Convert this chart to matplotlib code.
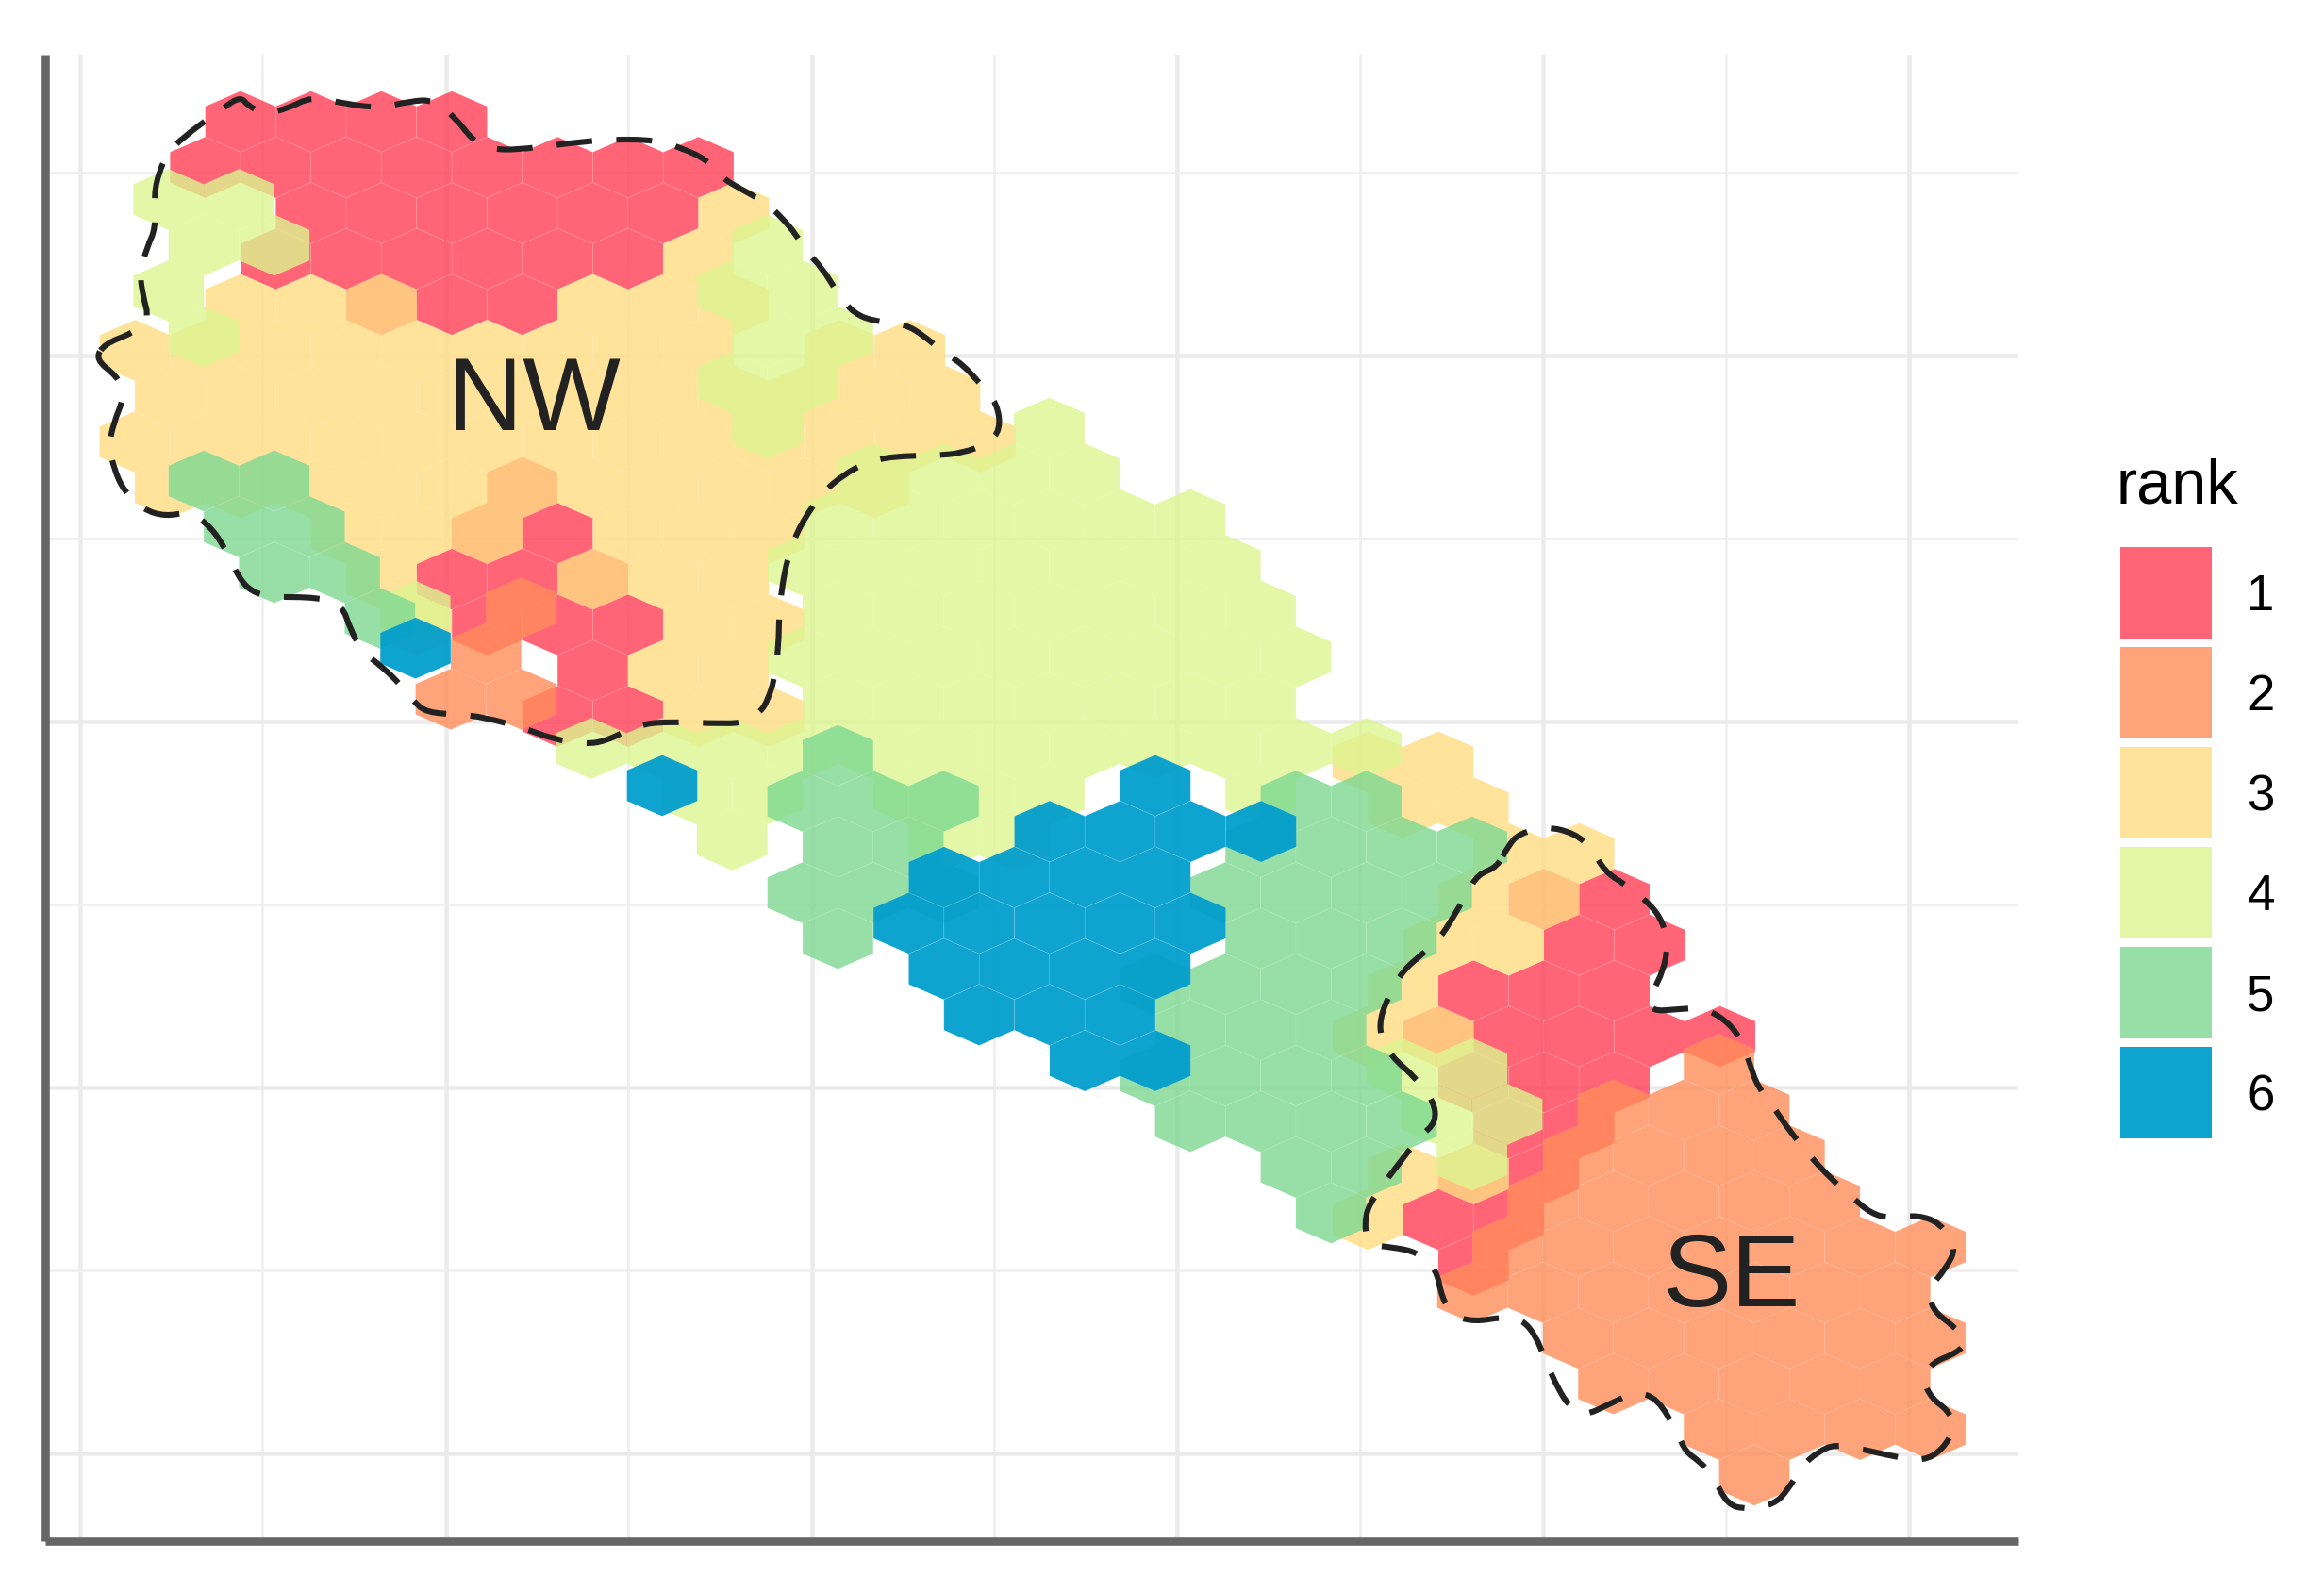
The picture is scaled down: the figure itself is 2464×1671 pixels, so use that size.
import numpy as np
import matplotlib
matplotlib.use('Agg')
import matplotlib.pyplot as plt
from matplotlib.collections import PolyCollection
from matplotlib.patches import PathPatch, Rectangle
from matplotlib.path import Path

plt.rcParams['font.family'] = ['Liberation Sans', 'DejaVu Sans']

RANKS = [1, 2, 3, 4, 5, 6]
RANK_COLORS = ['#FF3E55', '#FF8D59', '#FFDD82', '#DDF590', '#7DD891', '#009DCD']
RANK_ALPHA = [0.8, 0.8, 0.8, 0.8, 0.8, 0.94]

# hexbin rows per rank, each rank has its own bin origin (x0, y0, row step)
RANK1_ROWS = [0, 1, 2, 3, 4, 8, 9, 10, 11, 12, 13, 17, 18, 19, 20, 21, 22, 23, 24, 25]
RANK1_COLS = [[0, 1, 2, 3], [0, 1, 2, 3, 4, 5, 6, 7], [1, 2, 3, 4, 5, 6], [1, 2, 3, 4, 5, 6],
              [2, 3, 4], [4], [4, 5], [3, 4, 5], [4, 5, 6], [5], [5, 6],
              [19, 20], [19, 20], [18, 19, 20], [17, 18, 19, 20, 21], [18, 19, 20],
              [18, 19], [18, 19], [17, 18], [18]]

RANK2_ROWS = [0, 1, 2, 10, 11, 12, 13, 14, 15, 16, 17, 18, 19]
RANK2_COLS = [[1], [1], [0, 1], [18], [17, 18, 19], [16, 17, 18, 19], [16, 17, 18, 19, 20],
              [15, 16, 17, 18, 19, 20, 21], [15, 16, 17, 18, 19, 20, 21],
              [16, 17, 18, 19, 20, 21], [17, 18, 19, 20, 21], [18, 19, 20, 21], [19]]

RANK3_ROWS = [2, 3, 4, 5, 6, 7, 8, 9, 10, 11, 12, 13, 14, 15, 16, 17, 18, 19, 20, 23, 24]
RANK3_COLS = [[7], [7], [0, 1, 2, 5, 6, 7],
              [-1, 0, 1, 2, 3, 4, 5, 6, 7, 9, 10],
              [-1, 0, 1, 2, 3, 4, 5, 6, 7, 8, 9, 10],
              [-1, 0, 1, 2, 3, 4, 5, 6, 7, 8, 9, 10, 11],
              [-1, 0, 1, 2, 3, 4, 5, 6, 7, 8, 9],
              [2, 3, 4, 6, 7, 8], [2, 5, 6, 7], [3, 7, 8], [6, 7], [7, 8],
              [16, 17], [17, 18], [18, 19], [18, 19], [17, 18], [17], [16, 17], [17, 18], [16]]

RANK4_ROWS = [-5, -4, -3, -2, -1, 0, 1, 2, 3, 4, 5, 6, 7, 8, 9, 14, 15, 16]
RANK4_COLS = [[-12, -11], [-12, -11, -4], [-12, -4, -3], [-12, -4, -3], [-4, -3], [-4, 0],
              [-2, -1, 0, 1], [-3, -2, -1, 0, 1, 2], [-3, -2, -1, 0, 1, 2, 3],
              [-9, -3, -2, -1, 0, 1, 2, 3], [-3, -2, -1, 0, 1, 2, 3, 4],
              [-3, -2, -1, 0, 1, 2, 3],
              [-6, -5, -4, -3, -2, -1, 0, 1, 2, 3, 4, 5],
              [-5, -4, -2, -1, 0, 3], [-4, -1, 0],
              [5, 6], [6, 7], [6]]

RANK5_ROWS = [-6, -5, -4, -3, 0, 1, 2, 3, 4, 5, 6, 7, 8, 9, 10]
RANK5_COLS = [[-9, -8], [-8, -7], [-8, -7], [-6], [0], [0, 1, 2, 7, 8], [0, 1, 6, 7, 8, 9],
              [0, 1, 2, 6, 7, 8, 9], [0, 6, 7, 8], [5, 6, 7, 8], [5, 6, 7],
              [5, 6, 7, 8], [5, 6, 7, 8], [7, 8], [7]]

RANK6_ROWS = [-3, 0, 1, 2, 3, 4, 5, 6]
RANK6_COLS = [[-3], [0, 7], [6, 7, 8, 9], [4, 5, 6, 7], [4, 5, 6, 7, 8], [4, 5, 6, 7], [5, 6, 7], [6, 7]]

# region outlines
NW_LINE_X = [90, 125, 137, 118, 112, 120, 135, 165, 200, 238, 270, 295, 315, 335, 365, 440, 478,
             490, 510, 540, 570, 590, 610, 660, 700, 760, 810, 855, 890, 940, 985, 1080, 1110,
             1135, 1145, 1155, 1162, 1163, 1175, 1195, 1230, 1265, 1300, 1340, 1410, 1450, 1490,
             1510, 1505, 1480, 1450, 1420, 1390, 1360, 1315, 1280, 1255, 1230, 1205, 1190, 1165,
             1140, 1100, 1075, 1050, 1010, 970, 900, 830, 745, 705, 680, 655, 620, 585, 535, 480,
             430, 390, 355, 330, 318, 290, 225, 205, 190, 182, 185, 172, 160, 165, 175, 148, 105]
NW_LINE_Y = [645, 682, 720, 785, 830, 880, 925, 965, 980, 970, 1000, 1050, 1110, 1140, 1152, 1152,
             1170, 1220, 1270, 1300, 1340, 1375, 1398, 1402, 1408, 1430, 1455, 1465, 1460, 1425,
             1417, 1422, 1418, 1395, 1370, 1330, 1260, 1170, 1070, 1000, 930, 890, 865, 852, 850,
             845, 825, 795, 740, 700, 655, 630, 595, 570, 565, 548, 505, 450, 415, 380, 340, 310,
             280, 260, 220, 195, 178, 176, 185, 200, 195, 175, 130, 92, 95, 110, 100, 85, 112, 122,
             105, 85, 110, 175, 205, 245, 300, 365, 405, 460, 510, 560, 590, 612]
SE_LINE_X = [680, 700, 750, 800, 830, 855, 890, 935, 960, 968, 960, 940, 935, 990, 1030, 1070, 1100,
             1118, 1130, 1160, 1180, 1210, 1240, 1270, 1300, 1335, 1370, 1420, 1460, 1490, 1470,
             1440, 1445, 1485, 1510, 1490, 1445, 1428, 1445, 1475, 1487, 1465, 1430, 1375, 1320,
             1270, 1240, 1210, 1185, 1160, 1110, 1075, 1050, 1025, 1000, 985, 950, 910, 865, 815,
             790, 770, 745, 730, 705, 670, 620, 580, 560, 550, 515, 470, 425, 420, 440, 490, 520,
             550, 545, 510, 470, 450, 448, 465, 490, 520, 555, 580, 605, 625, 660]
SE_LINE_Y = [150, 125, 110, 125, 155, 205, 230, 270, 310, 360, 410, 455, 495, 490, 487, 510, 550,
             610, 650, 695, 730, 775, 815, 850, 880, 915, 925, 918, 935, 985, 1030, 1070, 1115,
             1150, 1180, 1205, 1225, 1260, 1300, 1325, 1360, 1405, 1430, 1420, 1405, 1395, 1410,
             1440, 1490, 1520, 1530, 1520, 1460, 1430, 1410, 1370, 1300, 1285, 1310, 1337, 1315,
             1280, 1215, 1170, 1135, 1130, 1140, 1128, 1090, 1030, 995, 985, 980, 920, 875, 800,
             755, 725, 680, 630, 590, 550, 510, 460, 410, 380, 345, 300, 250, 210, 195]

GRID_X_MAJOR = [84.6, 472.7, 860.5, 1248, 1636, 2024]
GRID_X_MINOR = [278, 666, 1054, 1442, 1830]
GRID_Y_MAJOR = [377, 765, 1153, 1541]
GRID_Y_MINOR = [183, 571, 959, 1347]

DX = 74.7
ORIGINS = {1: (255, 129, 48.5), 2: (478, 644.6, 48.39), 3: (255, 129, 48.5),
           4: (1112.5, 454, 48.5), 5: (888.4, 801, 48.5), 6: (702, 833, 48.6)}
EDGE_ALPHA = {1: 0.14, 2: 0.08, 3: 0.02, 4: 0.02, 5: 0.08, 6: 0.14}
ALL_ROWS = [RANK1_ROWS, RANK2_ROWS, RANK3_ROWS, RANK4_ROWS, RANK5_ROWS, RANK6_ROWS]
ALL_COLS = [RANK1_COLS, RANK2_COLS, RANK3_COLS, RANK4_COLS, RANK5_COLS, RANK6_COLS]


def hex_polys(rank, rows, cols):
    x0, y0, step = ORIGINS[rank]
    h = step * 2 / 3
    polys = []
    for r, row_cols in zip(rows, cols):
        cy = y0 + step * r
        for k in row_cols:
            cx = x0 + DX * k - DX / 2 * (r % 2)
            polys.append([(cx, cy - h), (cx + DX / 2, cy - h / 2), (cx + DX / 2, cy + h / 2),
                          (cx, cy + h), (cx - DX / 2, cy + h / 2), (cx - DX / 2, cy - h / 2)])
    return polys


def smooth_outline(xs, ys):
    # closed quadratic path, read points act as control points
    pts = np.column_stack([xs, ys])
    mids = (pts + np.roll(pts, -1, axis=0)) / 2
    verts = [mids[-1]]
    codes = [Path.MOVETO]
    for p, m in zip(pts, mids):
        verts += [p, m]
        codes += [Path.CURVE3, Path.CURVE3]
    return Path(verts, codes)


fig = plt.figure(figsize=(24.64, 16.71), dpi=100)
ax = fig.add_axes([47.5 / 2464, 37 / 1671, (2140 - 47.5) / 2464, (1634 - 58) / 1671])
ax.set_xlim(47.5, 2140)
ax.set_ylim(1634, 58)

ax.set_xticks(GRID_X_MAJOR)
ax.set_xticks(GRID_X_MINOR, minor=True)
ax.set_yticks(GRID_Y_MAJOR)
ax.set_yticks(GRID_Y_MINOR, minor=True)
ax.tick_params(which='both', length=0, labelbottom=False, labelleft=False)
ax.grid(True, which='major', color='#EBEBEB', linewidth=3.3)
ax.grid(True, which='minor', color='#EFEFEF', linewidth=1.9)
ax.set_axisbelow(True)
for side in ['top', 'right']:
    ax.spines[side].set_visible(False)
for side in ['left', 'bottom']:
    ax.spines[side].set_color('#666666')
    ax.spines[side].set_linewidth(6.2)
    ax.spines[side].set_capstyle('butt')

for i, rank in enumerate(RANKS):
    polys = hex_polys(rank, ALL_ROWS[i], ALL_COLS[i])
    coll = PolyCollection(polys, facecolors=matplotlib.colors.to_rgba(RANK_COLORS[i], RANK_ALPHA[i]),
                          edgecolors=(1, 1, 1, EDGE_ALPHA[rank]), linewidths=0.5, zorder=2 + i * 0.1)
    ax.add_collection(coll)

nw_path = smooth_outline(np.array(NW_LINE_X) * 0.676 + 40, np.array(NW_LINE_Y) * 0.4975 + 60)
se_path = smooth_outline(np.array(SE_LINE_X) * 0.587 + 1200, np.array(SE_LINE_Y) * 0.51 + 820)
for path in [nw_path, se_path]:
    ax.add_patch(PathPatch(path, fill=False, edgecolor='#222222', linewidth=4.4,
                           linestyle=(0, (6.2, 4.2)), capstyle='butt', zorder=4))

ax.text(566, 428, 'NW', fontsize=79, color='#222222', ha='center', va='center', zorder=5)
ax.text(1835, 1357, 'SE', fontsize=79, color='#222222', ha='center', va='center', zorder=5)

# legend, laid out in pixels
leg = fig.add_axes([0, 0, 1, 1], facecolor='none')
leg.set_xlim(0, 2464)
leg.set_ylim(1671, 0)
leg.axis('off')
leg.text(2244, 517, 'rank', fontsize=48, color='black', ha='left', va='center')
for i, rank in enumerate(RANKS):
    top = 580 + i * 106
    leg.add_patch(Rectangle((2248, top), 97, 97, facecolor=RANK_COLORS[i], alpha=RANK_ALPHA[i], linewidth=0))
    leg.text(2397, top + 53, str(rank), fontsize=38, color='black', ha='center', va='center')

fig.savefig('out.png', dpi=100)
plt.close(fig)
